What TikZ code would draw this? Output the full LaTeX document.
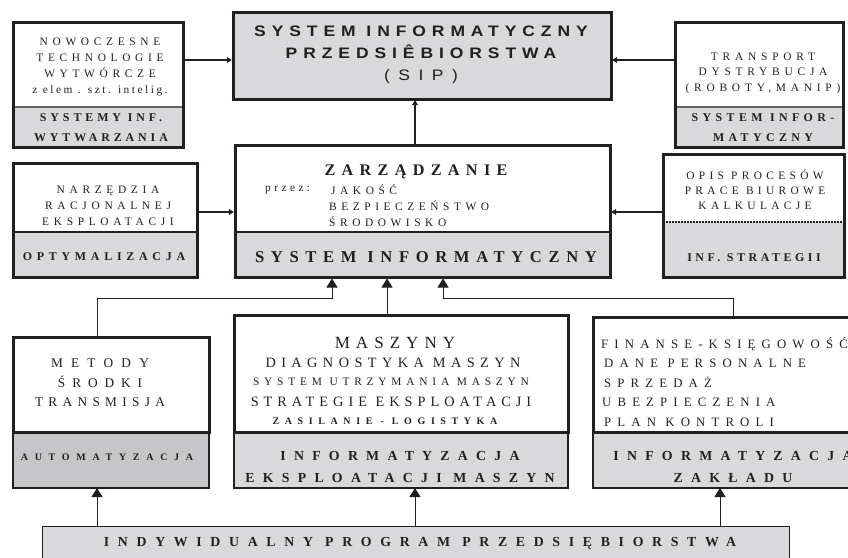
\documentclass[tikz,border=0pt]{standalone}
\usepackage{fontspec}
\setmainfont{Liberation Serif}
\newfontfamily\sansw{Liberation Sans}[FakeStretch=1.15]
\usetikzlibrary{arrows.meta}
\definecolor{gf}{HTML}{D9D9DB}
\definecolor{gd}{HTML}{C6C6C8}
\definecolor{bc}{HTML}{231F20}
\newcommand\lsp[2]{{\addfontfeatures{LetterSpace=#1}#2}}
\tikzset{
 part/.style={anchor=north west, inner sep=0pt, outer sep=0pt, rectangle},
 boxframe/.style={part, draw=bc, line width=3pt},
 thinframe/.style={part, draw=bc, line width=1.2pt},
 tx/.style n args={3}{inner sep=0pt, align=center, text=bc, font=\fontsize{#1}{#2}\selectfont\addfontfeatures{LetterSpace=#3}},
 txb/.style n args={3}{inner sep=0pt, align=center, text=bc, font=\fontsize{#1}{#2}\selectfont\bfseries\addfontfeatures{LetterSpace=#3}},
 txs/.style n args={3}{inner sep=0pt, align=center, text=bc, font=\sansw\fontsize{#1}{#2}\selectfont\bfseries\addfontfeatures{LetterSpace=#3}},
 bigarr/.style={draw=bc, line width=0.9pt, -{Triangle[width=11pt,length=9pt]}},
 smallarr/.style={draw=bc, line width=1.8pt, -{Triangle[width=6pt,length=5pt]}, shorten >=1.2pt},
 divthin/.style={draw=bc!70, line width=1.2pt},
 divthick/.style={draw=bc, line width=2.6pt},
}
\begin{document}
\begin{tikzpicture}[x=1pt,y=-1pt]
\useasboundingbox (0,0) rectangle (848,557);
\clip (0,0) rectangle (848,557);
\fill[white] (0,0) rectangle (848,557);

% ---------- top row ----------
% top-left
\node[part, fill=white, minimum width=170pt, minimum height=85pt] (tlw) at (13,22) {};
\node[part, fill=gf, minimum width=170pt, minimum height=40pt] (tlg) at (13,107) {};
\draw[divthin] (tlg.north west) -- (tlg.north east);
\node[boxframe, minimum width=170pt, minimum height=125pt] (tl) at (13,22) {};
\node[tx={11.4}{16}{41}] (tlt) at (100,67) {NOWOCZESNE\\TECHNOLOGIE\\WYTWÓRCZE\\\lsp{22}{z elem . szt. intelig.}};
\node[txb={11.9}{20}{33}] (tlgt) at (101,128) {SYSTEMY INF.\\WYTWARZANIA};

% top-center
\node[boxframe, fill=gf, minimum width=378pt, minimum height=87pt] (tc) at (233,12) {};
\node[txs={15.2}{22}{39}] (tct) at (421,55) {SYSTEM INFORMATYCZNY\\PRZEDSIÊBIORSTWA\\{\mdseries\addfontfeatures{LetterSpace=56}(SIP)}};

% top-right
\node[part, fill=white, minimum width=168pt, minimum height=85pt] (trw) at (675,22) {};
\node[part, fill=gf, minimum width=168pt, minimum height=40pt] (trg) at (675,107) {};
\draw[divthin] (trg.north west) -- (trg.north east);
\node[boxframe, minimum width=168pt, minimum height=125pt] (tr) at (675,22) {};
\node[tx={11.4}{15.5}{42}] (trt) at (763,73) {TRANSPORT\\DYSTRYBUCJA\\(ROBOTY,MANIP)};
\node[txb={11.9}{20}{37}] (trgt) at (763,128) {SYSTEM INFOR-\\MATYCZNY};

% ---------- middle row ----------
% middle-left
\node[part, fill=white, minimum width=184pt, minimum height=69pt] (mlw) at (13,163) {};
\node[part, fill=gf, minimum width=184pt, minimum height=45pt] (mlg) at (13,232) {};
\draw[divthick] (mlg.north west) -- (mlg.north east);
\node[boxframe, minimum width=184pt, minimum height=114pt] (ml) at (13,163) {};
\node[tx={11.4}{16}{41}] (mlt) at (108,206) {NARZĘDZIA\\RACJONALNEJ\\EKSPLOATACJI};
\node[txb={11.9}{14}{40}] (mlgt) at (104,257) {OPTYMALIZACJA};

% middle-center
\node[part, fill=white, minimum width=375pt, minimum height=87pt] (mcw) at (235,145) {};
\node[part, fill=gf, minimum width=375pt, minimum height=45pt] (mcg) at (235,232) {};
\draw[divthick] (mcg.north west) -- (mcg.north east);
\node[boxframe, minimum width=375pt, minimum height=132pt] (mc) at (235,145) {};
\node[txb={16.2}{18}{39}] (mct) at (416,172) {ZARZĄDZANIE};
\node[tx={11.4}{16}{30}, anchor=west] (mcp) at (265,190) {przez:};
\node[tx={11.4}{16}{40}, align=left, anchor=west] (mcl) at (329,206) {\hspace{2pt}JAKOŚĆ\\BEZPIECZEŃSTWO\\ŚRODOWISKO};
\node[txb={16.6}{18}{40}] (mcgt) at (426,257) {SYSTEM INFORMATYCZNY};

% middle-right
\node[part, fill=white, minimum width=181pt, minimum height=68pt] (mrw) at (663,154) {};
\node[part, fill=gf, minimum width=181pt, minimum height=55pt] (mrg) at (663,222) {};
\draw[draw=bc, line width=1.2pt, dash pattern=on 2pt off 1pt] (mrg.north west) -- (mrg.north east);
\node[boxframe, minimum width=181pt, minimum height=123pt] (mr) at (663,154) {};
\node[tx={11.4}{15}{38}] (mrt) at (755,190) {OPIS PROCESÓW\\PRACE BIUROWE\\KALKULACJE};
\node[txb={11.9}{14}{30}] (mrgt) at (754,258) {INF. STRATEGII};

% ---------- bottom row ----------
% bottom-left
\node[thinframe, fill=gd, minimum width=196pt, minimum height=56pt] (blg) at (13,432) {};
\node[boxframe, fill=white, minimum width=196pt, minimum height=95pt] (blw) at (13,337) {};
\node[tx={13.3}{19.5}{40}] (blt) at (100,383) {\lsp{62}{METODY}\\\lsp{52}{ŚRODKI}\\TRANSMISJA};
\node[txb={10}{12}{67}] (blgt) at (107,457) {AUTOMATYZACJA};

% bottom-middle
\node[thinframe, fill=gf, minimum width=334pt, minimum height=56pt] (bmg) at (234,432) {};
\node[boxframe, fill=white, minimum width=334pt, minimum height=117pt] (bmw) at (234,315) {};
\node[tx={17.1}{18}{35}] (bm1) at (395,343) {MASZYNY};
\node[tx={14.3}{18}{38}] (bm2) at (393,363) {DIAGNOSTYKA MASZYN};
\node[tx={11.4}{18}{42}] (bm3) at (391,382) {SYSTEM UTRZYMANIA MASZYN};
\node[tx={14.3}{18}{35}] (bm4) at (391,402) {STRATEGIE EKSPLOATACJI};
\node[txb={10}{18}{56}] (bm5) at (385,421) {ZASILANIE - LOGISTYKA};
\node[txb={13.8}{22}{60}] (bmgt) at (400,467) {INFORMATYZACJA\\EKSPLOATACJI MASZYN};

% bottom-right
\node[thinframe, fill=gf, minimum width=275pt, minimum height=56pt] (brg) at (593,432) {};
\node[boxframe, fill=white, minimum width=275pt, minimum height=115pt] (brw) at (593,317) {};
\node[tx={12.8}{19.5}{48}, align=left, anchor=west] (brt) at (601,382) {FINANSE-KSIĘGOWOŚĆ\\\hspace{3pt}DANE PERSONALNE\\\hspace{3pt}SPRZEDAŻ\\\hspace{1pt}UBEZPIECZENIA\\\hspace{3pt}PLAN KONTROLI};
\node[txb={13.8}{22}{60}] (brgt) at (733,467) {INFORMATYZACJA\\ZAKŁADU};

% bottom bar
\node[thinframe, fill=gf, line width=0.9pt, minimum width=747pt, minimum height=45pt] (bar) at (42,526) {};
\node[txb={13.8}{15}{63}] (bart) at (420,543) {INDYWIDUALNY PROGRAM PRZEDSIĘBIORSTWA};

% ---------- connectors ----------
\coordinate (ya) at (0,60);
\coordinate (yb) at (0,212);
\coordinate (xa) at (97,298);
\coordinate (xb) at (332,298);
\coordinate (xc) at (387,0);
\coordinate (xd) at (443,298);
\coordinate (xe) at (733,298);
\coordinate (xf) at (415,0);
\coordinate (xg) at (720,0);

\draw[smallarr] (tl.east |- ya) -- (tc.west |- ya);
\draw[smallarr] (tr.west |- ya) -- (tc.east |- ya);
\draw[smallarr, line width=2.6pt] (mc.north -| xf) -- (tc.south -| xf);
\draw[smallarr] (ml.east |- yb) -- (mc.west |- yb);
\draw[smallarr] (mr.west |- yb) -- (mc.east |- yb);

\draw[bigarr] (blw.north -| xa) -- (xa) -- (xb) -- ([yshift=-1.5pt]xb |- mc.south);
\draw[bigarr] (bmw.north -| xc) -- ([yshift=-1.5pt]xc |- mc.south);
\draw[bigarr] (brw.north -| xe) -- (xe) -- (xd) -- ([yshift=-1.5pt]xd |- mc.south);
\draw[bigarr] (bar.north -| xa) -- (blg.south -| xa);
\draw[bigarr] (bar.north -| xf) -- (bmg.south -| xf);
\draw[bigarr] (bar.north -| xg) -- (brg.south -| xg);
\end{tikzpicture}
\end{document}
